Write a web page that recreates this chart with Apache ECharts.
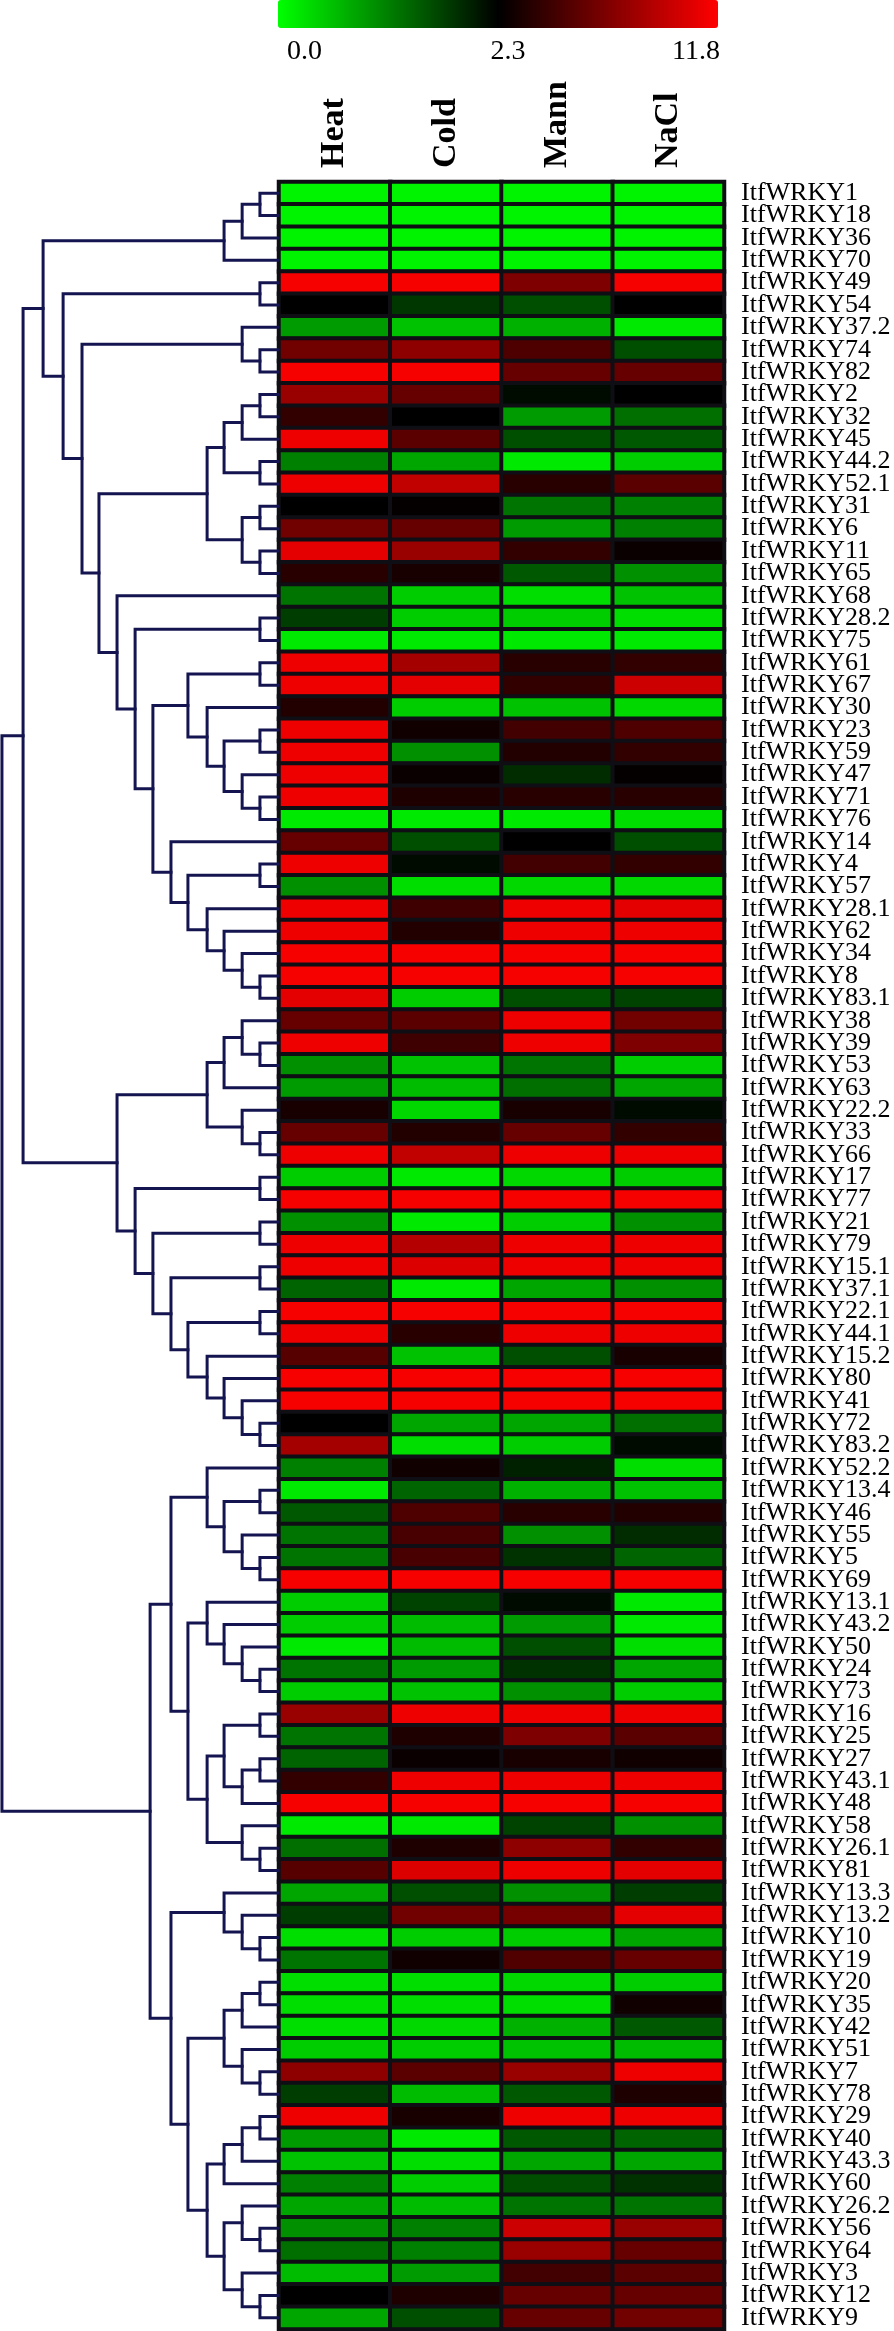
<!DOCTYPE html>
<html><head><meta charset="utf-8">
<script src="https://cdn.jsdelivr.net/npm/echarts@6/dist/echarts.min.js"></script>
<style>html,body{margin:0;padding:0;background:#fff}#c{width:894px;height:2331px}</style>
</head><body><div id="c"></div>
<script>
// ---------------- data ----------------
const conditions = ['Heat', 'Cold', 'Mann', 'NaCl'];
const genes = ['ItfWRKY1','ItfWRKY18','ItfWRKY36','ItfWRKY70','ItfWRKY49','ItfWRKY54','ItfWRKY37.2','ItfWRKY74','ItfWRKY82','ItfWRKY2',
'ItfWRKY32','ItfWRKY45','ItfWRKY44.2','ItfWRKY52.1','ItfWRKY31','ItfWRKY6','ItfWRKY11','ItfWRKY65','ItfWRKY68','ItfWRKY28.2',
'ItfWRKY75','ItfWRKY61','ItfWRKY67','ItfWRKY30','ItfWRKY23','ItfWRKY59','ItfWRKY47','ItfWRKY71','ItfWRKY76','ItfWRKY14',
'ItfWRKY4','ItfWRKY57','ItfWRKY28.1','ItfWRKY62','ItfWRKY34','ItfWRKY8','ItfWRKY83.1','ItfWRKY38','ItfWRKY39','ItfWRKY53',
'ItfWRKY63','ItfWRKY22.2','ItfWRKY33','ItfWRKY66','ItfWRKY17','ItfWRKY77','ItfWRKY21','ItfWRKY79','ItfWRKY15.1','ItfWRKY37.1',
'ItfWRKY22.1','ItfWRKY44.1','ItfWRKY15.2','ItfWRKY80','ItfWRKY41','ItfWRKY72','ItfWRKY83.2','ItfWRKY52.2','ItfWRKY13.4','ItfWRKY46',
'ItfWRKY55','ItfWRKY5','ItfWRKY69','ItfWRKY13.1','ItfWRKY43.2','ItfWRKY50','ItfWRKY24','ItfWRKY73','ItfWRKY16','ItfWRKY25',
'ItfWRKY27','ItfWRKY43.1','ItfWRKY48','ItfWRKY58','ItfWRKY26.1','ItfWRKY81','ItfWRKY13.3','ItfWRKY13.2','ItfWRKY10','ItfWRKY19',
'ItfWRKY20','ItfWRKY35','ItfWRKY42','ItfWRKY51','ItfWRKY7','ItfWRKY78','ItfWRKY29','ItfWRKY40','ItfWRKY43.3','ItfWRKY60',
'ItfWRKY26.2','ItfWRKY56','ItfWRKY64','ItfWRKY3','ItfWRKY12','ItfWRKY9'];

const heat = [0.1,0.1,0.1,0.1,11.5,2.3,0.9,6.5,11.5,8.0,
 4.2,11.2,1.15,11.2,2.3,6.5,10.8,3.8,1.25,1.75,
 0.2,11.2,11.2,3.6,11.2,11.2,11.2,11.2,0.2,6.1,
 11.2,1.0,11.2,11.2,11.5,11.5,10.8,6.1,11.2,1.0,
 0.9,3.2,6.1,11.2,0.45,11.5,1.0,11.2,11.2,1.4,
 11.5,11.2,5.5,11.5,11.5,2.3,8.4,1.15,0.2,1.5,
 1.25,1.25,11.5,0.45,0.45,0.2,1.25,0.45,8.0,1.25,
 1.4,4.2,11.5,0.2,1.3,5.5,0.8,1.75,0.3,1.25,
 0.3,0.3,0.3,0.45,7.6,1.75,11.2,0.9,0.55,1.15,
 0.8,1.0,1.3,0.6,2.3,0.8];
const cold = [0.1,0.1,0.1,0.1,11.5,1.8,0.55,7.6,11.5,6.1,
 2.3,5.7,0.8,9.5,2.5,6.1,8.0,3.2,0.45,0.45,
 0.2,8.4,10.8,0.45,2.9,1.0,2.7,3.4,0.2,1.6,
 2.2,0.3,4.6,3.6,11.5,11.5,0.45,5.7,4.6,0.55,
 0.6,0.35,3.6,9.5,0.2,11.5,0.2,9.0,10.5,0.2,
 11.5,3.8,0.55,11.5,11.5,0.8,0.3,2.9,1.4,5.2,
 5.0,5.0,11.5,1.7,0.6,0.6,0.9,0.55,11.2,3.4,
 2.7,11.2,11.5,0.2,3.4,10.5,1.6,6.5,0.45,2.9,
 0.3,0.3,0.35,0.45,5.7,0.6,3.2,0.2,0.3,0.45,
 0.6,1.15,1.15,0.9,3.4,1.6];
const mann = [0.1,0.1,0.1,0.1,7.0,1.6,0.7,5.2,6.1,2.2,
 0.9,1.6,0.2,3.8,1.25,0.9,4.2,1.5,0.3,0.45,
 0.2,3.8,4.2,0.55,4.8,3.6,1.9,3.8,0.2,2.3,
 4.8,0.35,11.2,11.2,11.5,11.5,1.6,11.2,11.2,1.25,
 1.3,3.2,6.1,11.2,0.35,11.5,0.45,11.2,11.2,0.8,
 11.5,11.2,1.6,11.5,11.5,0.8,0.45,2.0,0.7,3.8,
 1.0,1.85,11.5,2.2,0.9,1.6,1.85,1.0,11.2,7.0,
 3.2,11.2,11.5,1.7,7.6,11.2,1.0,6.7,0.45,5.3,
 0.35,0.3,0.7,0.55,8.0,1.5,11.2,1.5,0.8,1.6,
 1.25,9.9,8.0,4.8,6.1,6.1];
const nacl = [0.1,0.1,0.1,0.1,11.5,2.3,0.2,1.6,6.1,2.3,
 1.3,1.5,0.45,5.7,1.15,1.15,2.7,1.0,0.55,0.3,
 0.2,4.2,9.9,0.35,5.2,4.2,2.5,3.8,0.3,1.6,
 4.2,0.35,10.8,11.2,11.5,11.5,1.7,6.5,7.0,0.45,
 0.8,2.2,4.2,11.2,0.45,11.5,1.0,11.2,11.2,1.0,
 11.5,11.2,3.2,11.5,11.5,1.3,2.2,0.3,0.55,3.6,
 1.9,1.4,11.5,0.2,0.2,0.3,0.8,0.45,11.2,5.7,
 2.9,11.2,11.5,1.0,4.2,10.8,1.75,10.8,0.8,6.1,
 0.45,2.9,1.5,0.6,11.2,3.4,11.2,1.4,0.8,1.85,
 1.25,8.0,6.1,5.7,6.1,6.5];

// colour scale ticks (min, mid, max)
const scaleTicks = [0.0, 2.3, 11.8];

// dendrogram: [mergeHeight, left, right], leaves are row indices
const treeA = [0.845,
  [0.194, [0.129, [0.065, 0, 1], 2], 3],
  [0.773, [0.065, 4, 5],
    [0.705, [0.129, 6, [0.065, 7, 8]],
      [0.644,
        [0.255, [0.194, [0.129, [0.065, 9, 10], 11], [0.065, 12, 13]], [0.129, [0.065, 14, 15], [0.065, 16, 17]]],
        [0.579, 18,
          [0.514, [0.065, 19, 20],
            [0.45,
              [0.324, [0.065, 21, 22], [0.255, 23, [0.194, [0.065, 24, 25], [0.129, 26, [0.065, 27, 28]]]]],
              [0.385, 29, [0.324, [0.065, 30, 31], [0.255, 32, [0.194, 33, [0.129, 34, [0.065, 35, 36]]]]]]
            ]]]]]]];
const treeB = [0.579,
  [0.255, [0.194, [0.129, 37, [0.065, 38, 39]], 40], [0.129, 41, [0.065, 42, 43]]],
  [0.514, [0.065, 44, 45],
    [0.45, [0.065, 46, 47],
      [0.385, [0.065, 48, 49],
        [0.324, [0.065, 50, 51], [0.255, 52, [0.194, 53, [0.129, 54, [0.065, 55, 56]]]]]]]]];
const treeC = [0.46,
  [0.385,
    [0.255, 57, [0.194, [0.065, 58, 59], [0.129, 60, [0.065, 61, 62]]]],
    [0.324,
      [0.255, 63, [0.194, 64, [0.129, 65, [0.065, 66, 67]]]],
      [0.255, [0.194, [0.065, 68, 69], [0.129, [0.065, 70, 71], 72]], [0.129, 73, [0.065, 74, 75]]]]],
  [0.385,
    [0.194, 76, [0.129, 77, [0.065, 78, 79]]],
    [0.324,
      [0.194, [0.129, [0.065, 80, 81], 82], [0.129, 83, [0.065, 84, 85]]],
      [0.255, [0.194, [0.129, [0.065, 86, 87], 88], 89],
        [0.194, [0.129, 90, [0.065, 91, 92]], [0.129, 93, [0.065, 94, 95]]]]]]];
const tree = [0.993, [0.917, treeA, treeB], treeC];

// ---------------- build ----------------
const columns = [heat, cold, mann, nacl];
const vMin = scaleTicks[0], vMid = scaleTicks[1], vMax = scaleTicks[2];
function scalePos(v) {
  const p = v <= vMid ? 0.5 * (v - vMin) / (vMid - vMin) : 0.5 + 0.5 * (v - vMid) / (vMax - vMid);
  return Math.max(0, Math.min(1, p));
}
const cells = [];
columns.forEach((col, c) => col.forEach((v, r) => cells.push([c, r, v, scalePos(v)])));

const segs = [];
function walk(node) {
  if (typeof node === 'number') return { y: node, h: 0 };
  const [h, a, b] = node;
  const A = walk(a), B = walk(b);
  segs.push({ coords: [[A.h, A.y], [h, A.y], [h, B.y], [B.h, B.y]] });
  return { y: (A.y + B.y) / 2, h: h };
}
walk(tree);

// layout
const TOP = 182, H = 2147, HM_LEFT = 279, HM_W = 445, DEN_W = 278;
const BAR_LEFT = 278, BAR_LEN = 440, BAR_T = 28;
const serif = '"Liberation Serif", "Times New Roman", serif';

const chart = echarts.init(document.getElementById('c'), null, { renderer: 'canvas' });
chart.setOption({
  animation: false,
  backgroundColor: '#fff',
  grid: [
    { left: 0, top: TOP, width: DEN_W, height: H },
    { left: HM_LEFT, top: TOP, width: HM_W, height: H }
  ],
  xAxis: [
    { type: 'value', gridIndex: 0, min: 0, max: 1, inverse: true, show: false },
    { type: 'category', gridIndex: 1, data: conditions, position: 'top',
      axisLine: { show: false }, axisTick: { show: false }, splitLine: { show: false },
      axisLabel: { rotate: -90, margin: 14, fontSize: 34, fontWeight: 'bold', fontFamily: serif, color: '#000' } }
  ],
  yAxis: [
    { type: 'value', gridIndex: 0, min: -0.5, max: genes.length - 0.5, inverse: true, show: false },
    { type: 'category', gridIndex: 1, data: genes, inverse: true, position: 'right',
      axisLine: { show: false }, axisTick: { show: false }, splitLine: { show: false },
      axisLabel: { interval: 0, margin: 17, fontSize: 26, lineHeight: 22, fontFamily: serif, color: '#000' } }
  ],
  visualMap: {
    type: 'continuous', min: 0, max: 1, dimension: 3, seriesIndex: 0,
    orient: 'horizontal', left: BAR_LEFT, top: 0, padding: 0,
    itemWidth: BAR_T, itemHeight: BAR_LEN, calculable: false, hoverLink: false,
    inRange: { color: ['#00ff00', '#000000', '#ff0000'] }
  },
  graphic: scaleTicks.map((t, i) => ({
    type: 'text',
    x: i === 0 ? BAR_LEFT + 9 : (i === 1 ? BAR_LEFT + BAR_LEN / 2 + 10 : BAR_LEFT + BAR_LEN + 2),
    y: 52,
    style: { text: t.toFixed(1), font: '28px ' + serif, fill: '#000',
      align: i === 0 ? 'left' : (i === 1 ? 'center' : 'right'), verticalAlign: 'middle' }
  })),
  series: [
    { type: 'heatmap', xAxisIndex: 1, yAxisIndex: 1, data: cells,
      itemStyle: { borderColor: '#0e0e14', borderWidth: 4 },
      emphasis: { disabled: true }, progressive: 0 },
    { type: 'lines', coordinateSystem: 'cartesian2d', xAxisIndex: 0, yAxisIndex: 0,
      polyline: true, silent: true, data: segs,
      lineStyle: { color: '#141450', width: 3, opacity: 1, cap: 'square' } }
  ]
});
</script>
</body></html>
